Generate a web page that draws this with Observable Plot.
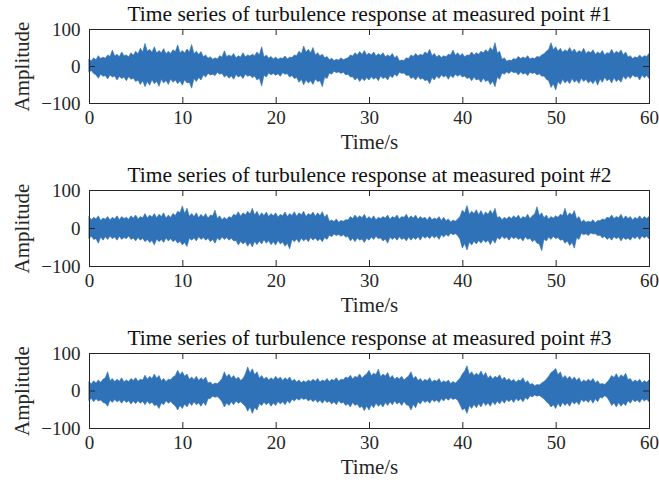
<!DOCTYPE html>
<html>
<head>
<meta charset="utf-8">
<script src="https://cdn.jsdelivr.net/npm/d3@7"></script>
<script src="https://cdn.jsdelivr.net/npm/@observablehq/plot@0.6"></script>
<style>
  body { margin: 0; background: #fff; }
  #chart { position: relative; width: 659px; height: 485px; }
</style>
</head>
<body>
<div id="chart"></div>
<script>
// Envelope readings of the response, every 0.25 s from 0 to 60 s
const sampleStep = 0.25;
const xTicks = [0, 10, 20, 30, 40, 50, 60];
const yTicks = [-100, 0, 100];
const titles = [
  "Time series of turbulence response at measured point #1",
  "Time series of turbulence response at measured point #2",
  "Time series of turbulence response at measured point #3"
];
const xLabel = "Time/s";
const yLabel = "Amplitude";

const upper1 = [
  18,14,22,17,28,20,24,21,30,26,43,27,32,25,38,28,30,25,36,29,
  40,33,48,38,61,40,45,37,52,35,42,36,47,33,40,34,44,39,57,36,
  42,35,46,38,58,33,40,31,39,25,30,21,25,18,22,19,28,24,41,25,
  30,26,34,22,28,24,36,25,30,27,32,28,38,30,52,24,30,21,26,19,
  24,18,22,20,27,19,24,23,30,28,40,33,54,38,45,36,50,30,36,27,
  32,22,26,17,21,15,18,16,22,17,20,22,30,27,36,30,39,31,42,30,
  35,30,38,27,33,29,36,25,30,26,34,22,28,14,16,15,22,20,30,26,
  34,27,32,29,38,33,45,28,34,24,30,23,28,25,32,30,43,29,36,28,
  34,25,30,29,38,30,36,32,40,36,44,38,50,42,63,35,40,18,22,13,
  16,15,20,18,26,20,24,21,28,19,22,20,26,24,30,33,40,45,63,44,
  52,40,48,37,44,39,50,38,46,35,42,37,48,34,40,36,44,32,38,33,
  42,30,36,34,45,33,40,35,43,30,38,24,28,20,25,22,30,23,28,26,
  34];
const lower1 = [
  -15,-13,-20,-24,-33,-22,-28,-26,-35,-24,-30,-27,-38,-28,-34,-30,-40,-29,-36,-33,
  -42,-38,-50,-40,-56,-42,-52,-37,-48,-41,-55,-36,-46,-39,-50,-35,-44,-38,-48,-40,
  -52,-37,-46,-44,-60,-34,-42,-31,-38,-24,-30,-20,-24,-22,-26,-17,-22,-20,-30,-25,
  -33,-27,-36,-23,-30,-26,-34,-22,-28,-25,-32,-27,-38,-33,-54,-25,-30,-19,-24,-20,
  -25,-21,-28,-18,-22,-21,-30,-26,-34,-31,-44,-36,-51,-38,-46,-40,-50,-35,-42,-40,
  -56,-30,-34,-19,-22,-14,-18,-16,-20,-17,-24,-22,-30,-29,-38,-31,-42,-33,-40,-31,
  -38,-29,-36,-31,-40,-27,-34,-30,-38,-26,-32,-22,-28,-17,-20,-19,-26,-24,-34,-30,
  -38,-28,-36,-33,-40,-37,-48,-31,-38,-27,-34,-24,-30,-26,-36,-25,-32,-22,-28,-23,
  -30,-27,-34,-31,-40,-30,-38,-35,-44,-33,-42,-38,-50,-41,-56,-30,-36,-19,-22,-16,
  -20,-14,-18,-17,-24,-16,-22,-19,-26,-17,-20,-18,-24,-21,-28,-27,-36,-40,-58,-48,
  -65,-42,-50,-36,-46,-39,-48,-34,-44,-38,-47,-33,-42,-36,-46,-40,-48,-37,-52,-35,
  -44,-31,-40,-35,-46,-32,-42,-36,-44,-28,-36,-27,-34,-24,-30,-28,-38,-25,-32,-26,
  -34];
const upper2 = [
  30,22,28,24,32,20,26,23,30,21,28,24,32,22,30,25,28,23,32,26,
  34,24,30,27,38,26,34,29,38,27,36,30,40,26,34,28,38,33,44,40,
  58,38,52,31,38,30,40,27,36,29,38,26,34,32,47,25,32,22,28,23,
  30,27,36,33,43,31,40,35,44,37,52,34,44,31,40,33,42,30,38,32,
  40,29,36,32,42,30,38,33,43,31,40,35,44,30,38,34,42,31,40,33,
  43,28,36,18,21,17,24,15,20,18,22,21,30,25,34,26,32,27,36,24,
  30,24,32,22,28,25,30,26,34,23,30,27,34,24,30,28,36,25,32,26,
  34,23,30,25,28,21,30,22,26,23,30,20,28,19,24,16,21,18,24,30,
  47,40,59,36,44,38,48,35,46,33,42,36,47,37,52,27,30,22,28,24,
  30,25,32,26,34,24,30,27,36,25,32,37,56,33,40,27,34,24,30,26,
  32,28,36,33,52,31,40,34,46,24,30,16,21,15,18,16,22,14,20,19,
  24,22,28,26,34,25,30,27,36,24,32,25,30,21,28,24,32,23,30,25,
  30];
const lower2 = [
  -27,-22,-30,-28,-40,-24,-32,-23,-30,-21,-28,-24,-32,-22,-30,-25,-28,-21,-30,-26,
  -34,-25,-32,-27,-36,-30,-38,-33,-45,-29,-36,-30,-38,-26,-34,-28,-36,-31,-40,-35,
  -45,-38,-49,-27,-32,-26,-34,-23,-30,-25,-32,-27,-36,-30,-40,-26,-32,-24,-30,-25,
  -32,-27,-34,-33,-45,-35,-42,-36,-48,-38,-50,-35,-44,-34,-42,-31,-40,-33,-44,-36,
  -45,-33,-42,-37,-48,-40,-55,-30,-36,-29,-38,-27,-34,-28,-36,-25,-32,-26,-34,-28,
  -36,-25,-30,-19,-23,-16,-20,-17,-22,-18,-24,-22,-34,-27,-36,-26,-32,-29,-38,-27,
  -32,-24,-30,-22,-28,-26,-34,-29,-40,-24,-30,-25,-32,-23,-30,-26,-34,-24,-32,-25,
  -30,-23,-32,-21,-27,-22,-28,-20,-26,-21,-30,-18,-24,-17,-22,-14,-18,-15,-20,-30,
  -53,-41,-58,-37,-45,-35,-42,-33,-40,-31,-38,-32,-44,-30,-40,-25,-30,-22,-28,-24,
  -32,-23,-28,-24,-30,-26,-34,-23,-30,-27,-36,-31,-40,-42,-60,-29,-34,-24,-30,-22,
  -28,-25,-32,-30,-40,-34,-46,-38,-53,-25,-30,-14,-18,-15,-20,-13,-16,-15,-20,-19,
  -26,-22,-30,-25,-32,-23,-28,-24,-34,-25,-30,-26,-32,-23,-28,-22,-30,-21,-26,-22,
  -28];
const upper3 = [
  23,18,26,20,28,22,30,34,50,26,32,24,30,25,34,23,28,24,32,27,
  34,25,30,28,41,30,38,32,44,33,40,26,32,24,30,29,36,40,54,42,
  50,38,44,30,36,29,38,27,34,28,36,20,23,16,20,18,24,32,50,36,
  44,33,40,30,36,27,32,44,63,47,58,42,50,33,40,30,36,28,34,29,
  38,30,36,27,34,29,36,25,30,23,28,21,26,22,28,24,30,25,32,23,
  28,25,32,24,30,27,34,25,30,29,36,33,41,31,38,35,44,33,40,44,
  54,40,46,43,57,37,44,39,48,33,40,30,36,31,38,28,34,39,50,32,
  38,27,32,24,30,26,34,23,28,25,32,21,26,22,28,19,24,20,26,33,
  44,52,66,43,50,40,46,41,52,39,48,33,40,31,38,34,42,29,36,27,
  32,25,30,22,28,26,34,21,26,16,19,13,16,15,20,24,30,38,48,52,
  59,42,50,33,40,31,38,29,36,27,34,22,28,24,30,25,32,21,26,17,
  19,16,22,30,40,35,45,33,42,37,46,29,32,23,28,24,30,21,26,22,
  28];
const lower3 = [
  -26,-21,-30,-22,-28,-25,-32,-34,-42,-26,-32,-24,-30,-26,-34,-25,-32,-27,-36,-28,
  -35,-27,-34,-29,-38,-28,-36,-31,-40,-38,-48,-33,-38,-27,-34,-29,-36,-41,-52,-40,
  -48,-36,-44,-32,-40,-30,-38,-33,-42,-31,-40,-22,-21,-15,-18,-16,-22,-30,-44,-33,
  -40,-30,-38,-28,-34,-30,-36,-42,-55,-44,-61,-45,-52,-35,-40,-31,-38,-32,-42,-33,
  -40,-29,-36,-30,-38,-27,-34,-23,-28,-21,-26,-20,-24,-21,-28,-23,-30,-24,-32,-26,
  -34,-25,-32,-28,-36,-30,-38,-27,-34,-31,-40,-35,-44,-32,-40,-36,-46,-42,-54,-41,
  -52,-38,-46,-34,-42,-36,-44,-32,-40,-30,-38,-28,-36,-31,-40,-29,-38,-40,-52,-37,
  -46,-30,-36,-26,-32,-27,-34,-24,-30,-25,-32,-22,-28,-20,-26,-19,-24,-21,-26,-38,
  -52,-47,-61,-40,-48,-37,-46,-35,-44,-31,-40,-33,-42,-30,-38,-28,-36,-26,-34,-24,
  -30,-23,-32,-21,-28,-22,-30,-19,-24,-14,-17,-12,-15,-13,-18,-22,-30,-35,-44,-38,
  -48,-34,-44,-32,-40,-33,-42,-29,-36,-30,-38,-24,-30,-25,-32,-23,-34,-22,-30,-18,
  -20,-14,-18,-28,-40,-33,-44,-32,-42,-34,-40,-27,-34,-24,-30,-25,-32,-22,-28,-23,
  -30];

const series = [
  {title: titles[0], hi: upper1, lo: lower1},
  {title: titles[1], hi: upper2, lo: lower2},
  {title: titles[2], hi: upper3, lo: lower3}
];

const layout = [
  {top: 0, h: 74},
  {top: 161, h: 76},
  {top: 324, h: 75}
];

const blue = "#2f72b8";
const ink = "#262626";
const font = "Liberation Serif, Times New Roman, serif";
const tickPx = 6;

const chart = document.getElementById("chart");

series.forEach((s, k) => {
  const {top, h} = layout[k];
  const rows = s.hi.map((v, i) => ({t: i * sampleStep, hi: v, lo: s.lo[i]}));
  const xDom = [0, 60], yDom = [-100, 100];
  const ty = (yDom[1] - yDom[0]) * tickPx / h;
  const tx = (xDom[1] - xDom[0]) * tickPx / 560;
  const svg = Plot.plot({
    width: 659,
    height: 29 + h + 52,
    marginTop: 29,
    marginBottom: 52,
    marginLeft: 89,
    marginRight: 10,
    x: {domain: xDom},
    y: {domain: yDom},
    style: {fontFamily: font, fontSize: "19px", color: ink, background: "white", overflow: "visible"},
    marks: [
      Plot.areaY(rows, {x: "t", y1: "lo", y2: "hi", fill: blue, stroke: blue, strokeWidth: 0.6}),
      Plot.frame({stroke: ink, strokeWidth: 1}),
      Plot.ruleX(xTicks, {x: d => d, y1: yDom[0], y2: yDom[0] + ty, stroke: ink}),
      Plot.ruleX(xTicks, {x: d => d, y1: yDom[1], y2: yDom[1] - ty, stroke: ink}),
      Plot.ruleY(yTicks, {y: d => d, x1: xDom[0], x2: xDom[0] + tx, stroke: ink}),
      Plot.ruleY(yTicks, {y: d => d, x1: xDom[1], x2: xDom[1] - tx, stroke: ink}),
      Plot.axisX({ticks: xTicks, tickSize: 0, tickPadding: 7, fontSize: 19, label: null}),
      Plot.axisY({ticks: yTicks, tickSize: 0, tickPadding: 9, fontSize: 19, label: null}),
      Plot.text([s.title], {frameAnchor: "top", lineAnchor: "middle", dy: -15, fontSize: 21.5, fill: "#111"}),
      Plot.text([xLabel], {frameAnchor: "bottom", lineAnchor: "middle", dy: 39, fontSize: 21}),
      Plot.text([yLabel], {frameAnchor: "left", textAnchor: "middle", lineAnchor: "middle", dx: -67, rotate: -90, fontSize: 21})
    ]
  });
  svg.style.position = "absolute";
  svg.style.left = "0px";
  svg.style.top = top + "px";
  chart.appendChild(svg);
});
</script>
</body>
</html>
